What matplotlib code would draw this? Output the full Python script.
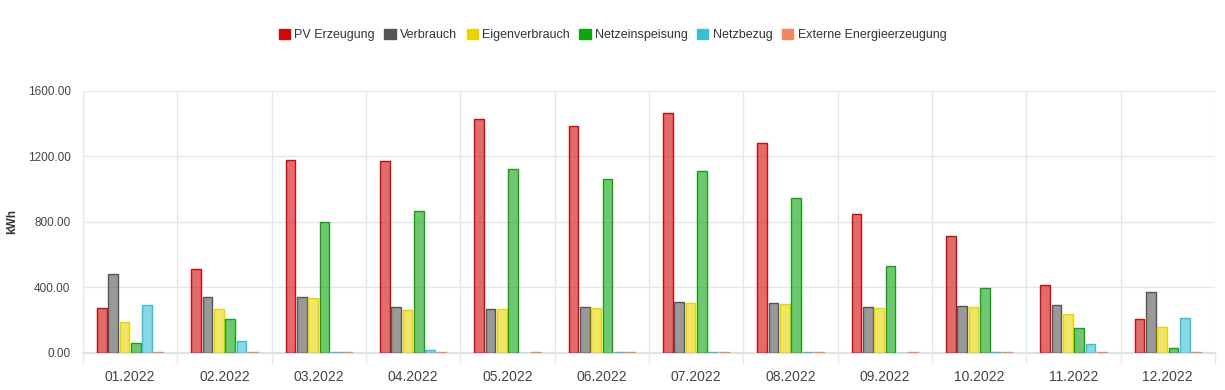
import numpy as np
import matplotlib.pyplot as plt
from matplotlib.colors import to_rgba

plt.rcParams['font.family'] = ['Liberation Sans', 'DejaVu Sans']

months = ['01.2022', '02.2022', '03.2022', '04.2022', '05.2022', '06.2022',
          '07.2022', '08.2022', '09.2022', '10.2022', '11.2022', '12.2022']

pv_erzeugung = [275, 513, 1179, 1173, 1429, 1386, 1466, 1282, 849, 714, 415, 208]
verbrauch = [482, 342, 342, 281, 269, 281, 311, 305, 281, 287, 293, 372]
eigenverbrauch = [190, 269, 336, 263, 269, 275, 305, 299, 275, 281, 238, 159]
netzeinspeisung = [61, 208, 800, 867, 1124, 1063, 1111, 946, 531, 397, 153, 31]
netzbezug = [293, 73, 6, 18, 2, 3, 4, 3, 2, 5, 55, 214]
externe = [4, 4, 4, 4, 4, 4, 4, 4, 4, 4, 4, 4]

series = [
    ('PV Erzeugung', pv_erzeugung, '#cc0a0a'),
    ('Verbrauch', verbrauch, '#555555'),
    ('Eigenverbrauch', eigenverbrauch, '#e9d400'),
    ('Netzeinspeisung', netzeinspeisung, '#13a213'),
    ('Netzbezug', netzbezug, '#3bbdd5'),
    ('Externe Energieerzeugung', externe, '#f4875a'),
]

fig = plt.figure(figsize=(12.25, 3.9), dpi=100)
ax = fig.add_axes([0.0678, 0.0949, 0.9240, 0.6718])

x = np.arange(len(months))
group = 0.72
slot = group / len(series)
bw = slot * 0.86
for i, (name, vals, col) in enumerate(series):
    off = -group / 2 + slot * (i + 0.5)
    ax.bar(x + off, vals, width=bw, facecolor=to_rgba(col, 0.6),
           edgecolor=col, linewidth=1.0, label=name, zorder=3)

ax.set_xlim(-0.5, len(months) - 0.5)
ax.set_ylim(0, 1600)
ax.set_yticks([0, 400, 800, 1200, 1600])
ax.set_yticklabels(['%.2f' % v for v in [0, 400, 800, 1200, 1600]])
ax.set_xticks(x)
ax.set_xticklabels(months)
ax.set_xticks(np.arange(-0.5, len(months)), minor=True)

ax.grid(axis='y', color='#e6e6e6', linewidth=1, zorder=0)
ax.grid(axis='x', which='minor', color='#e6e6e6', linewidth=1, zorder=0)
ax.tick_params(axis='x', which='major', length=0, pad=12, labelsize=10, labelcolor='#444444')
ax.tick_params(axis='x', which='minor', length=8, color='#e6e6e6', width=1)
ax.tick_params(axis='y', length=0, pad=9, labelsize=8.5, labelcolor='#444444')
for s in ['top', 'right']:
    ax.spines[s].set_visible(False)
ax.spines['left'].set_color('#e6e6e6')
ax.spines['bottom'].set_color('#e0e0e0')
ax.spines['bottom'].set_linewidth(1.5)
ax.spines['bottom'].set_zorder(1)
ax.set_ylabel('kWh', fontsize=8.5, fontweight='bold', color='#333333', labelpad=4)
ax.yaxis.set_label_coords(-0.057, 0.5)

handles = [plt.Rectangle((0, 0), 1, 1, facecolor=c, edgecolor=c) for _, _, c in series]
fig.legend(handles, [n for n, _, _ in series], loc='center', bbox_to_anchor=(0.5, 0.91),
           ncol=6, frameon=False, fontsize=9, handlelength=0.9, handleheight=0.9,
           handletextpad=0.35, columnspacing=0.75, labelcolor='#333333')

fig.savefig('out.png', dpi=100)
